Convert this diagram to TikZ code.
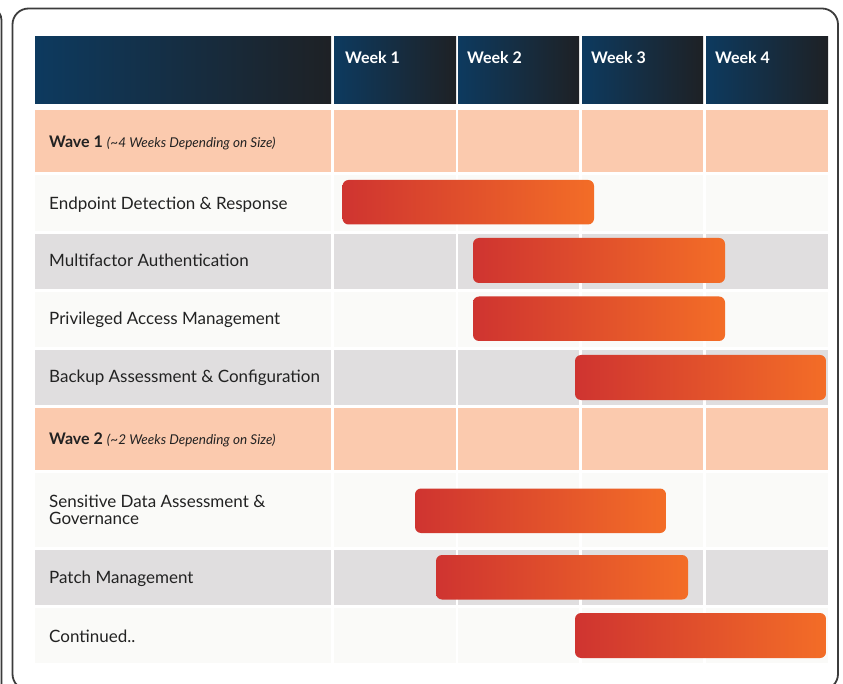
\documentclass[tikz,border=0pt]{standalone}
\usepackage{fontspec}
\setmainfont{Lato}
\usetikzlibrary{fit}
\definecolor{hdL}{HTML}{0D3A5F}
\definecolor{hdR}{HTML}{1E2125}
\definecolor{peach}{HTML}{FBCAAE}
\definecolor{light}{HTML}{FAFAF8}
\definecolor{greyrow}{HTML}{E0DEDF}
\definecolor{barL}{HTML}{CF3430}
\definecolor{barR}{HTML}{F36D27}
\definecolor{frame}{HTML}{3C3C3C}
\definecolor{txt}{HTML}{222222}
\begin{document}
\begin{tikzpicture}[x=1pt,y=-1pt,
  cellbox/.style={rectangle,inner sep=0pt,outer sep=0pt,draw=none},
  hdcell/.style={cellbox,left color=hdL,right color=hdR},
  wavecell/.style={cellbox,fill=peach},
  lightcell/.style={cellbox,fill=light},
  greycell/.style={cellbox,fill=greyrow},
  barbox/.style={rectangle,inner sep=0pt,outer sep=0pt,draw=none,rounded corners=6pt,left color=barL,right color=barR},
  rowlabel/.style={anchor=base west,inner sep=0pt,text=txt,font=\fontsize{17}{18}\selectfont},
  wavelabel/.style={anchor=base west,inner sep=0pt,text=txt,font=\fontsize{16}{17}\selectfont},
  wklabel/.style={anchor=base west,inner sep=0pt,text=white,font=\fontsize{16}{18}\selectfont\bfseries},
  framestyle/.style={draw=frame,line width=1.8pt}
]
\useasboundingbox (0,0) rectangle (843,684);
\fill[white] (0,0) rectangle (843,684);
% frames
\draw[framestyle,rounded corners=16pt] (12.5,8.5) rectangle (838,690);
\draw[framestyle] (-8,9) to[out=0,in=90] (1.5,20) -- (1.5,690);
% header
\node[hdcell,fit={(35,37) (331,104)}] (h0) {};
\node[hdcell,fit={(334,37) (456,104)}] (h1) {};
\node[hdcell,fit={(458,37) (579,104)}] (h2) {};
\node[hdcell,fit={(582,37) (703,104)}] (h3) {};
\node[hdcell,fit={(706,37) (828,104)}] (h4) {};
% rows: style per row
\foreach \r/\ya/\yb/\st in {w1/110/172/wavecell, r1/175/231/lightcell, r2/234/289/greycell, r3/292/347/lightcell, r4/350/405/greycell, w2/408/470/wavecell, r5/473/547/lightcell, r6/550/605/greycell, r7/608/663/lightcell}{
  \node[\st,fit={(35,\ya) (331,\yb)}] (\r c0) {};
  \node[\st,fit={(334,\ya) (456,\yb)}] (\r c1) {};
  \node[\st,fit={(458,\ya) (579,\yb)}] (\r c2) {};
  \node[\st,fit={(582,\ya) (703,\yb)}] (\r c3) {};
  \node[\st,fit={(706,\ya) (828,\yb)}] (\r c4) {};
}
% week labels
\node[wklabel] (wk1) at (345,64) {Week 1};
\node[wklabel] (wk2) at (467,64) {Week 2};
\node[wklabel] (wk3) at (591,64) {Week 3};
\node[wklabel] (wk4) at (715,64) {Week 4};
% row labels
\node[wavelabel] (lw1) at (49,148) {\textbf{Wave 1} {\fontsize{13.5}{14}\selectfont\itshape (\textasciitilde4 Weeks Depending on Size)}};
\node[rowlabel] (l1) at (49,209.5) {Endpoint Detection \& Response};
\node[rowlabel] (l2) at (49,267) {Multifactor Authentication};
\node[rowlabel] (l3) at (49,325) {Privileged Access Management};
\node[rowlabel] (l4) at (49,382.5) {Backup Assessment \& Configuration};
\node[wavelabel] (lw2) at (49,444) {\textbf{Wave 2} {\fontsize{13.5}{14}\selectfont\itshape (\textasciitilde2 Weeks Depending on Size)}};
\node[rowlabel] (l5a) at (49,507) {Sensitive Data Assessment \&};
\node[rowlabel] (l5b) at (49,524) {Governance};
\node[rowlabel] (l6) at (49,583) {Patch Management};
\node[rowlabel] (l7) at (49,642) {Continued..};
% bars
\node[barbox,fit={(342.5,180) (594,224.5)}] (b1) {};
\node[barbox,fit={(473,238) (725,283)}] (b2) {};
\node[barbox,fit={(473,296.5) (725,341)}] (b3) {};
\node[barbox,fit={(575,355) (826,400)}] (b4) {};
\node[barbox,fit={(415,488.5) (666,533)}] (b5) {};
\node[barbox,fit={(436,555) (688,599.5)}] (b6) {};
\node[barbox,fit={(575,613) (826,658)}] (b7) {};
\end{tikzpicture}
\end{document}
